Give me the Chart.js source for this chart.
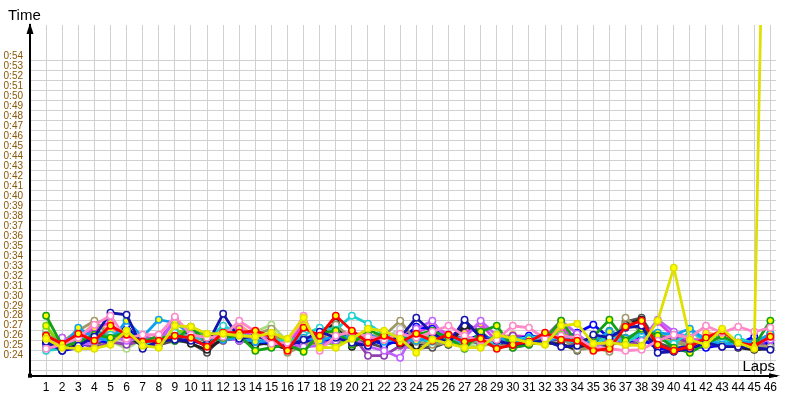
<!DOCTYPE html>
<html>
<head>
<meta charset="utf-8">
<script src="https://cdn.jsdelivr.net/npm/chart.js@4/dist/chart.umd.min.js"></script>
<style>
  body { margin: 0; background: #fff; }
  #wrap { width: 800px; height: 400px; }
</style>
</head>
<body>
<div id="wrap"><canvas id="lapChart" width="800" height="400"></canvas></div>
<script>
// lap numbers
const laps = [1,2,3,4,5,6,7,8,9,10,11,12,13,14,15,16,17,18,19,20,21,22,23,24,25,26,27,28,29,30,31,32,33,34,35,36,37,38,39,40,41,42,43,44,45,46];

// lap times in seconds, one array per driver
const yellowTimes = [26.2,25.3,25.2,25.2,25.6,27.0,25.5,25.3,27.5,27.4,26.7,26.7,26.5,26.4,26.8,26.2,28.3,25.3,25.3,26.2,27.2,27.0,26.2,24.8,26.1,25.7,25.3,25.3,26.6,26.2,25.8,25.6,27.5,27.7,25.7,25.8,25.6,25.5,28.0,33.3,26.1,25.6,27.2,25.8,25.2,108];
const redTimes = [26.5,25.7,26.7,26.0,27.5,26.6,25.9,26.0,26.5,26.3,25.4,26.8,26.8,27.0,26.4,25.0,27.3,26.5,28.5,27.0,25.8,26.5,25.8,26.7,26.0,26.6,25.9,26.2,25.2,25.6,25.9,26.8,26.1,26.0,25.0,25.2,27.4,28.0,25.6,25.0,25.4,26.3,27.0,25.8,25.5,26.4];
const blueTimes = [25.6,25.0,25.3,26.1,25.8,27.6,25.3,25.8,26.4,26.8,25.9,26.6,26.2,25.9,25.8,25.4,25.9,26.2,26.0,26.7,26.2,25.6,26.0,27.4,27.2,26.3,26.0,26.6,25.8,26.0,26.5,26.3,26.1,26.8,27.6,26.3,25.9,26.2,25.2,25.1,25.5,25.3,25.6,25.7,26.4,25.6];
const navyTimes = [25.9,25.0,25.5,26.4,28.8,28.6,25.2,26.0,26.1,26.0,25.6,28.7,26.2,26.5,26.0,25.5,26.1,26.9,26.3,25.8,25.5,26.3,26.3,28.3,26.8,25.7,28.1,26.3,26.0,25.6,25.8,26.0,25.4,25.5,26.6,26.3,27.3,27.5,24.8,24.9,25.2,25.8,25.4,25.4,25.3,25.1];
const greenTimes = [28.5,25.5,25.8,26.6,26.3,26.9,25.9,26.5,26.0,27.4,25.8,26.3,26.5,25.0,25.3,25.6,24.9,26.7,27.0,25.6,27.1,26.4,26.0,26.6,27.0,26.3,25.2,26.9,27.5,25.3,25.6,26.2,28.0,25.8,26.4,28.1,26.0,27.2,26.5,25.3,24.8,25.7,26.5,25.6,25.5,28.0];
const limeTimes = [27.5,25.4,25.9,26.4,26.1,27.1,25.7,25.8,26.9,27.0,26.3,26.0,26.6,25.4,26.8,25.7,25.2,25.9,25.6,26.4,26.0,26.2,25.9,25.9,26.5,26.1,25.9,25.8,26.6,25.9,26.3,26.1,26.6,26.4,25.5,26.8,25.8,25.8,26.7,26.1,25.3,25.9,26.0,26.1,25.6,26.7];
const pinkTimes = [25.2,25.6,26.3,27.6,28.5,26.2,26.6,26.6,28.4,26.6,26.3,26.4,28.0,26.9,25.7,25.8,28.5,25.0,26.5,26.9,26.4,26.1,26.7,26.3,26.9,27.5,26.5,26.0,26.1,27.5,27.3,26.2,26.5,26.3,25.3,25.2,25.0,25.1,26.0,26.6,26.3,27.5,26.8,27.4,26.9,27.3];
const violetTimes = [25.4,26.3,25.6,25.8,26.5,26.0,26.3,25.6,28.2,26.6,26.0,26.4,26.0,26.1,26.1,25.7,25.4,25.5,26.0,26.3,25.4,25.0,24.3,27.2,28.0,25.9,26.3,28.0,26.5,25.3,25.6,26.4,28.0,26.7,25.4,25.9,26.2,26.0,28.1,26.9,26.3,25.6,25.8,25.4,25.7,26.1];
const purpleTimes = [25.8,26.3,25.8,25.3,25.9,25.6,26.0,26.3,26.4,26.1,25.5,26.0,26.3,26.0,25.9,25.3,25.9,25.8,26.3,26.6,24.5,24.5,25.5,25.2,25.4,26.5,26.3,25.6,26.1,26.5,26.2,25.7,26.4,25.3,26.0,25.6,25.9,25.6,26.4,26.3,25.8,25.6,25.4,26.0,25.4,25.8];
const cyanTimes = [25.0,25.2,26.5,26.0,26.6,27.0,25.6,26.0,26.8,26.3,26.2,27.5,26.7,26.3,26.1,25.9,26.6,27.3,27.1,28.5,27.7,26.6,26.5,26.2,25.9,26.1,26.3,25.9,25.8,26.1,26.3,26.5,26.1,25.8,25.5,26.5,25.8,26.7,26.3,25.7,26.9,26.0,25.8,26.3,25.7,26.5];
const skyTimes = [25.3,25.4,27.3,26.3,26.0,28.0,26.4,28.1,27.8,26.7,26.2,26.1,26.3,25.9,26.0,25.6,26.3,26.0,26.5,26.3,26.7,25.9,26.2,26.0,26.3,25.8,25.9,26.2,26.3,25.9,26.2,25.8,26.5,25.8,25.9,26.9,26.2,27.0,26.8,26.6,27.2,26.1,25.6,25.8,25.8,26.7];
const oliveTimes = [26.6,25.9,27.0,28.0,26.4,26.7,26.0,26.2,26.7,26.5,26.2,26.4,26.2,26.6,27.2,24.8,25.5,26.2,27.6,26.2,26.5,26.5,28.0,25.9,25.6,25.8,26.1,25.8,25.4,25.6,26.0,26.6,26.3,25.1,25.3,24.9,28.3,26.8,26.1,25.8,25.6,25.7,26.3,26.0,25.5,25.4];
const greyTimes = [25.9,25.3,26.6,25.6,26.2,26.3,25.6,25.6,26.0,25.8,24.8,26.5,26.0,25.8,25.6,25.2,25.6,26.4,27.4,26.0,25.8,25.3,26.5,25.4,25.3,25.9,27.8,26.9,25.6,25.7,26.1,25.9,25.7,25.0,25.8,25.4,27.9,28.3,25.8,25.2,25.5,25.4,26.1,25.5,25.2,25.3];
const blackTimes = [25.7,25.1,25.6,25.9,26.3,26.7,25.4,26.1,26.3,25.7,25.1,26.2,26.2,25.6,25.8,25.1,25.7,26.6,27.8,25.4,25.9,26.0,25.7,25.5,26.1,25.6,27.5,26.7,25.4,25.5,25.7,25.8,25.6,25.2,26.0,25.6,27.6,28.1,25.3,25.0,25.3,25.6,25.7,25.3,25.1,25.2];
const salmonTimes = [25.5,25.8,26.2,27.8,27.0,26.5,26.1,26.3,26.6,26.1,26.4,26.9,27.6,26.4,26.2,25.5,27.9,25.6,27.2,26.5,26.0,26.4,26.2,26.9,26.2,26.4,26.2,26.1,26.3,26.6,26.0,26.3,27.6,25.9,26.3,26.6,26.1,26.1,26.0,26.2,25.7,26.8,26.5,26.0,26.0,26.3];
const paleGreenTimes = [27.0,25.6,26.1,26.7,26.0,25.2,26.2,25.4,27.2,26.2,25.9,26.3,26.4,26.9,27.6,25.9,26.0,25.7,26.8,26.1,25.9,25.8,26.1,26.5,26.4,26.0,25.6,25.4,25.9,25.8,26.0,26.2,26.3,25.7,26.1,26.0,25.5,25.7,26.2,25.9,25.4,25.5,25.9,25.7,25.6,25.9];
const tealTimes = [26.9,25.5,26.4,27.0,26.5,26.6,25.8,26.4,26.2,27.1,26.5,26.6,26.0,26.2,26.4,25.8,25.3,26.5,26.1,25.9,26.6,25.7,26.4,26.2,26.7,26.2,25.8,26.3,26.2,26.4,25.9,26.1,26.9,26.1,25.6,27.0,26.3,26.4,26.6,25.7,25.8,26.2,26.7,25.9,25.3,26.2];
const magentaTimes = [26.0,25.9,26.0,27.3,27.8,25.8,26.4,26.1,28.0,26.5,26.0,26.8,27.2,26.3,26.3,25.6,27.6,25.8,26.2,26.8,26.1,25.9,26.6,26.8,27.5,26.6,26.8,27.7,25.9,26.5,26.4,26.0,27.4,25.9,25.6,26.2,26.0,26.3,27.9,26.4,26.1,26.0,26.2,25.9,25.9,26.6];
const silverTimes = [26.3,25.6,26.8,26.8,26.4,25.6,26.5,25.9,26.1,26.3,26.6,27.0,26.4,26.2,26.7,25.4,26.2,26.3,27.0,25.8,26.3,26.2,27.2,25.7,25.6,25.9,26.0,25.7,25.6,25.6,26.1,26.6,26.4,25.3,25.4,25.3,27.7,27.2,25.6,25.5,25.5,25.8,26.0,25.6,25.4,25.5];

// y tick range (seconds)
const yTickMin = 23;
const yTickMax = 54;

// [data, line colour, marker fill]
const drivers = [
  [yellowTimes, '#E0E000', '#FFFF00'],
  [redTimes, '#FF0000', '#FFFF00'],
  [pinkTimes, '#FF88C8', '#FFFFFF'],
  [navyTimes, '#1414A8', '#FFFFFF'],
  [greenTimes, '#14A014', '#FFFF00'],
  [skyTimes, '#10A0F0', '#FFFF00'],
  [cyanTimes, '#20D0D0', '#FFFFFF'],
  [violetTimes, '#C060FF', '#FFFFFF'],
  [oliveTimes, '#A09868', '#FFFFFF'],
  [blueTimes, '#0000FF', '#FFFFFF'],
  [blackTimes, '#202020', '#FFFFFF'],
  [greyTimes, '#505050', '#FFFFFF'],
  [purpleTimes, '#9040B0', '#FFFFFF'],
  [magentaTimes, '#E040E0', '#FFFF00'],
  [limeTimes, '#78D800', '#FFFF00'],
  [salmonTimes, '#FFA070', '#FFFF00'],
  [paleGreenTimes, '#A8D880', '#FFFFFF'],
  [tealTimes, '#20A080', '#FFFF00'],
  [silverTimes, '#C8C8C8', '#FFFFFF']
];

const datasets = drivers.map(([times, line, fill]) => ({
  data: times.map((t, i) => ({ x: laps[i], y: t })),
  borderColor: line,
  backgroundColor: fill,
  pointBackgroundColor: fill,
  pointBorderColor: line,
  borderWidth: 2.8,
  pointRadius: 3.2,
  pointBorderWidth: 1.5,
  tension: 0
}));

// arrows, origin box and axis names
const axisDecor = {
  id: 'axisDecor',
  afterDraw(chart) {
    const { ctx, chartArea: a } = chart;
    ctx.save();
    ctx.fillStyle = '#000';
    // y arrow
    ctx.beginPath();
    ctx.moveTo(a.left, a.top - 2);
    ctx.lineTo(a.left - 3.5, a.top + 9);
    ctx.lineTo(a.left + 3.5, a.top + 9);
    ctx.closePath();
    ctx.fill();
    // x arrow
    ctx.beginPath();
    ctx.moveTo(a.right + 4, a.bottom);
    ctx.lineTo(a.right - 7, a.bottom - 2.5);
    ctx.lineTo(a.right - 7, a.bottom + 2.5);
    ctx.closePath();
    ctx.fill();
    ctx.fillRect(a.left - 2, a.bottom - 2, 4, 4);
    ctx.font = '15px "Liberation Sans", Arial, sans-serif';
    ctx.textBaseline = 'alphabetic';
    ctx.textAlign = 'left';
    ctx.fillText('Time', 8, 20);
    ctx.textAlign = 'right';
    ctx.fillText('Laps', a.right - 1, a.bottom - 5);
    ctx.restore();
  }
};

new Chart(document.getElementById('lapChart'), {
  type: 'line',
  data: { datasets },
  options: {
    responsive: false,
    devicePixelRatio: 1,
    animation: false,
    layout: { padding: { left: 0, top: 25, right: 24, bottom: 0 } },
    plugins: { legend: { display: false }, tooltip: { enabled: false } },
    scales: {
      x: {
        type: 'linear',
        min: 0,
        max: 46.35,
        afterBuildTicks: s => { s.ticks = [0].concat(laps).map(v => ({ value: v })); },
        afterFit: s => { s.height = 24.3; },
        grid: { color: '#D0D0D0', lineWidth: 1, drawTicks: false },
        border: { color: '#000', width: 2 },
        ticks: {
          padding: 5,
          maxRotation: 0,
          autoSkip: false,
          color: '#000',
          font: { family: '"Liberation Sans", Arial, sans-serif', size: 12 },
          callback: v => (v >= 1 ? String(v) : '')
        }
      },
      y: {
        min: 22.5,
        max: 57.6,
        afterBuildTicks: s => {
          const t = [];
          for (let v = yTickMin; v <= yTickMax; v++) t.push({ value: v });
          s.ticks = t;
        },
        afterFit: s => { s.width = 30; },
        grid: { color: '#D0D0D0', lineWidth: 1, drawTicks: false },
        border: { color: '#000', width: 2 },
        ticks: {
          padding: 7,
          labelOffset: -5,
          autoSkip: false,
          color: '#8A5808',
          font: { family: '"Liberation Sans", Arial, sans-serif', size: 10 },
          callback: v => (v > yTickMin ? '0:' + v : '')
        }
      }
    }
  },
  plugins: [axisDecor]
});
</script>
</body>
</html>
